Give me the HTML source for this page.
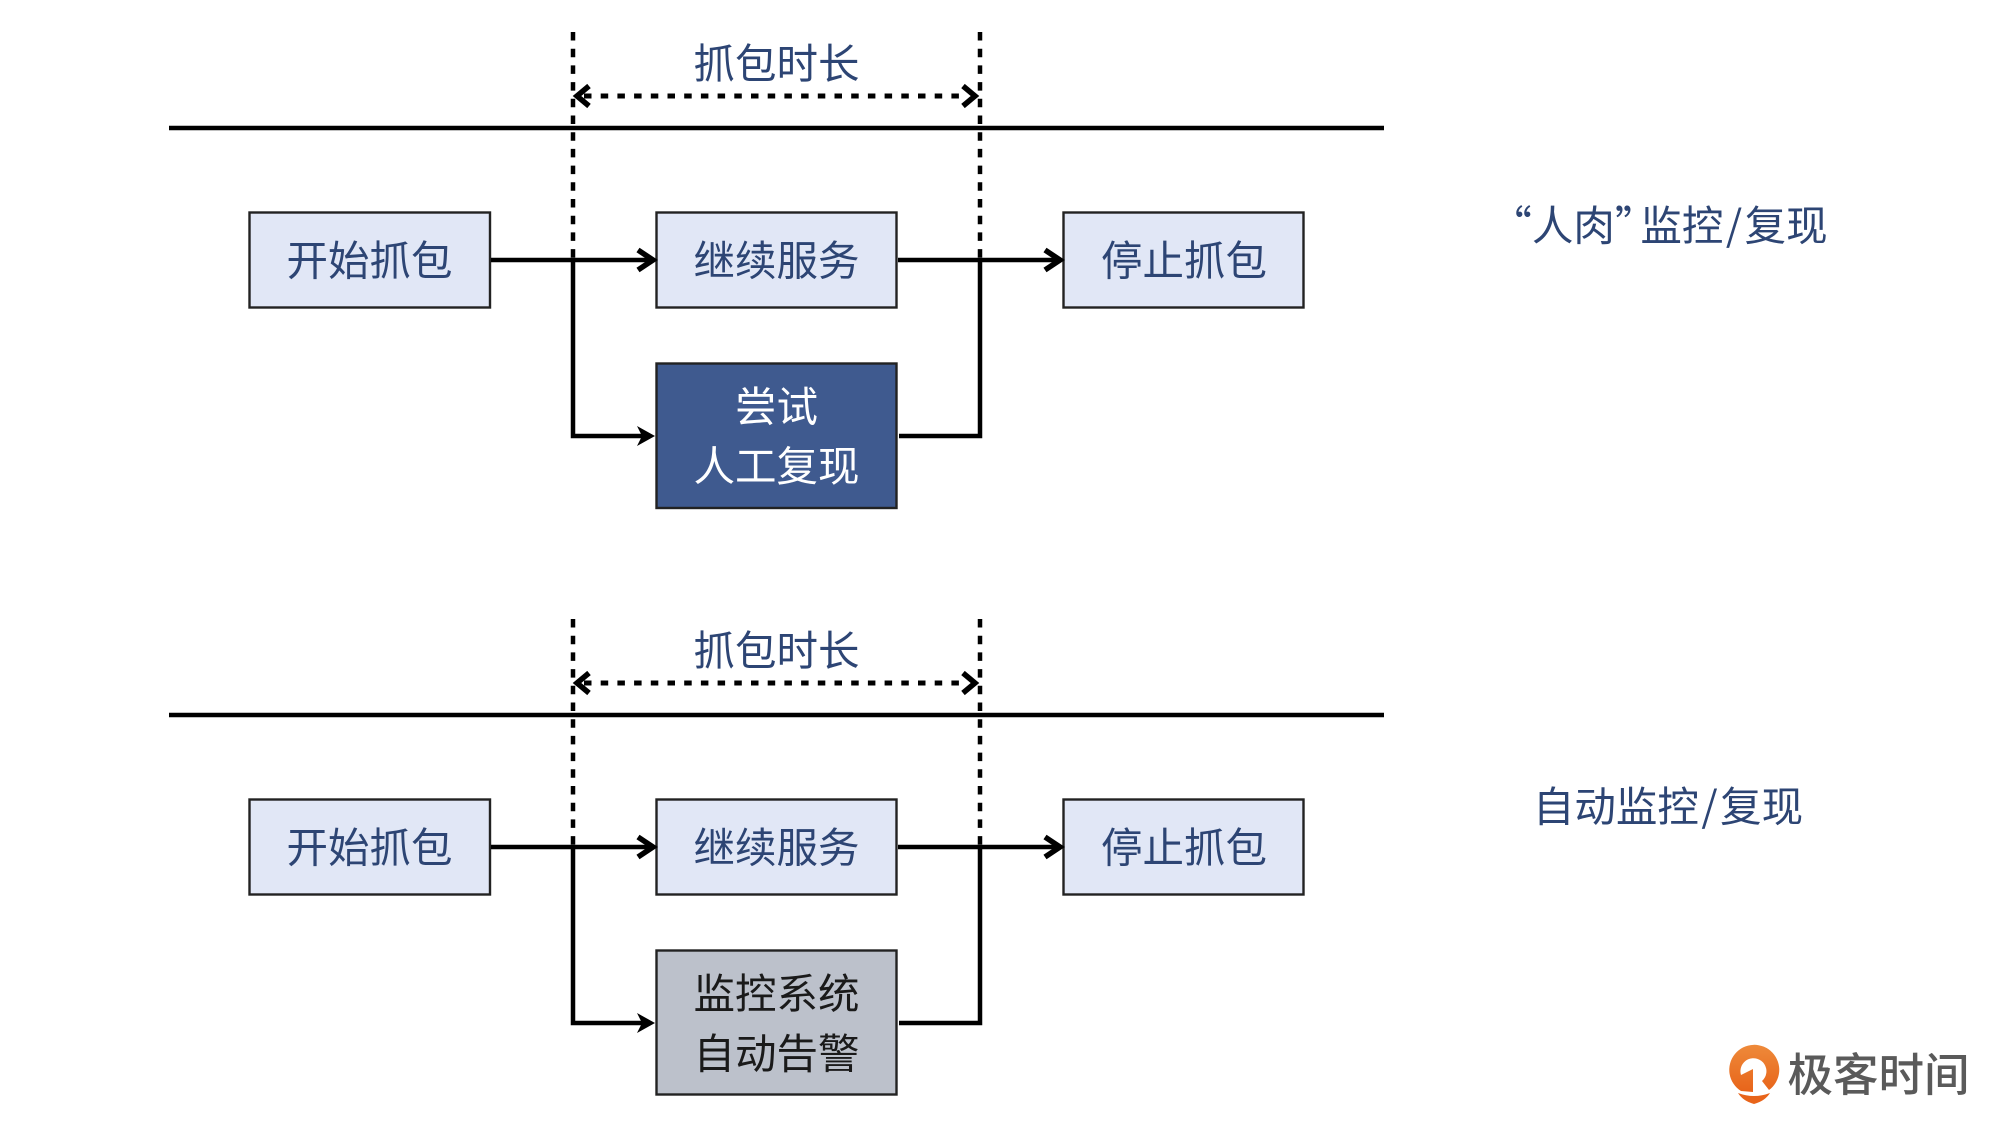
<!DOCTYPE html>
<html lang="zh-CN"><head><meta charset="utf-8"><title>抓包时长</title>
<style>html,body{margin:0;padding:0;background:#fff}svg{display:block}
text{font-family:"Liberation Sans","Noto Sans CJK SC",sans-serif;text-anchor:middle;dominant-baseline:auto}
.t{font-size:41.500px;fill:#2d4574}.w{fill:#fff}.k{fill:#1a1a1a}
.n{font-family:"Noto Sans CJK SC","Liberation Sans",sans-serif}
.ln{stroke:#000;stroke-width:4.5;fill:none}
.d{stroke:#000;stroke-width:4.5;fill:none;stroke-dasharray:8.5 8.2}
.ah{stroke:#000;stroke-width:5.5;fill:none;stroke-linejoin:miter}
.b{fill:#e1e7f6;stroke:#222;stroke-width:2.400}</style></head>
<body>
<svg width="2000" height="1125" viewBox="0 0 2000 1125" xmlns="http://www.w3.org/2000/svg">
<defs>
<linearGradient id="o" x1="0" y1="0" x2="0" y2="1"><stop offset="0" stop-color="#ee8a3a"/><stop offset="1" stop-color="#e8641a"/></linearGradient>
<g id="p">
<line class="d" x1="573" y1="32" x2="573" y2="258"/>
<line class="d" x1="980" y1="32" x2="980" y2="258"/>
<line x1="584" y1="96" x2="968" y2="96" stroke="#000" stroke-width="5" stroke-dasharray="7.500 9.200"/>
<path class="ah" d="M589 86 L577 96 L589 106"/>
<path class="ah" d="M963 86 L975 96 L963 106"/>
<line x1="169" y1="128" x2="1384" y2="128" stroke="#000" stroke-width="4.500"/>
<text class="t" x="776.500" y="78.700">抓包时长</text>
<rect class="b" x="249.500" y="212.500" width="240.500" height="95"/>
<rect class="b" x="656.500" y="212.500" width="240" height="95"/>
<rect class="b" x="1063.500" y="212.500" width="240" height="95"/>
<text class="t" x="369.500" y="275.500">开始抓包</text>
<text class="t" x="776.500" y="275.500">继续服务</text>
<text class="t" x="1184" y="275.500">停止抓包</text>
<line class="ln" x1="491" y1="260" x2="652" y2="260"/>
<path class="ah" d="M638 250 L653 260 L638 270"/>
<line class="ln" x1="898" y1="260" x2="1059" y2="260"/>
<path class="ah" d="M1045 250 L1060 260 L1045 270"/>
<path class="ln" d="M573 260 V436 H645"/>
<path d="M637 426 L655 436 L637 446 L642 436 Z" fill="#000"/>
<path class="ln" d="M899 436 H980 V260"/>
</g>
</defs>
<use href="#p"/>
<use href="#p" y="587"/>
<rect x="656.500" y="363.500" width="240" height="144.500" fill="#3f5a8f" stroke="#222" stroke-width="2.400"/>
<text class="t w" x="776.500" y="421.500">尝试</text>
<text class="t w" x="776.500" y="480.800">人工复现</text>
<rect x="656.500" y="950.500" width="240" height="144" fill="#bcc1cb" stroke="#222" stroke-width="2.400"/>
<text class="t k" x="776.500" y="1008.500">监控系统</text>
<text class="t k" x="776.500" y="1068.500">自动告警</text>
<text class="t n" x="1659" y="240.500">“人肉”<tspan dx="-16">监控</tspan><tspan dx="2.500">/</tspan><tspan dx="2.500">复现</tspan></text>
<text class="t n" x="1668" y="821.500">自动监控<tspan dx="2.500">/</tspan><tspan dx="2.500">复现</tspan></text>
<path d="M1753 1092 L1741 1091 A25 25 0 1 1 1769 1090 L1762 1081 A13 13 0 1 0 1741 1075 L1753 1069 Z" fill="url(#o)"/>
<path d="M1738 1093 Q1754 1099 1770 1093 Q1765 1101 1754 1104 Q1743 1101 1738 1093 Z" fill="#e8641a"/>
<text x="1878.500" y="1091" style="font-size:45.500px;fill:#5a5a5a;font-weight:500">极客时间</text>
</svg>
</body></html>
